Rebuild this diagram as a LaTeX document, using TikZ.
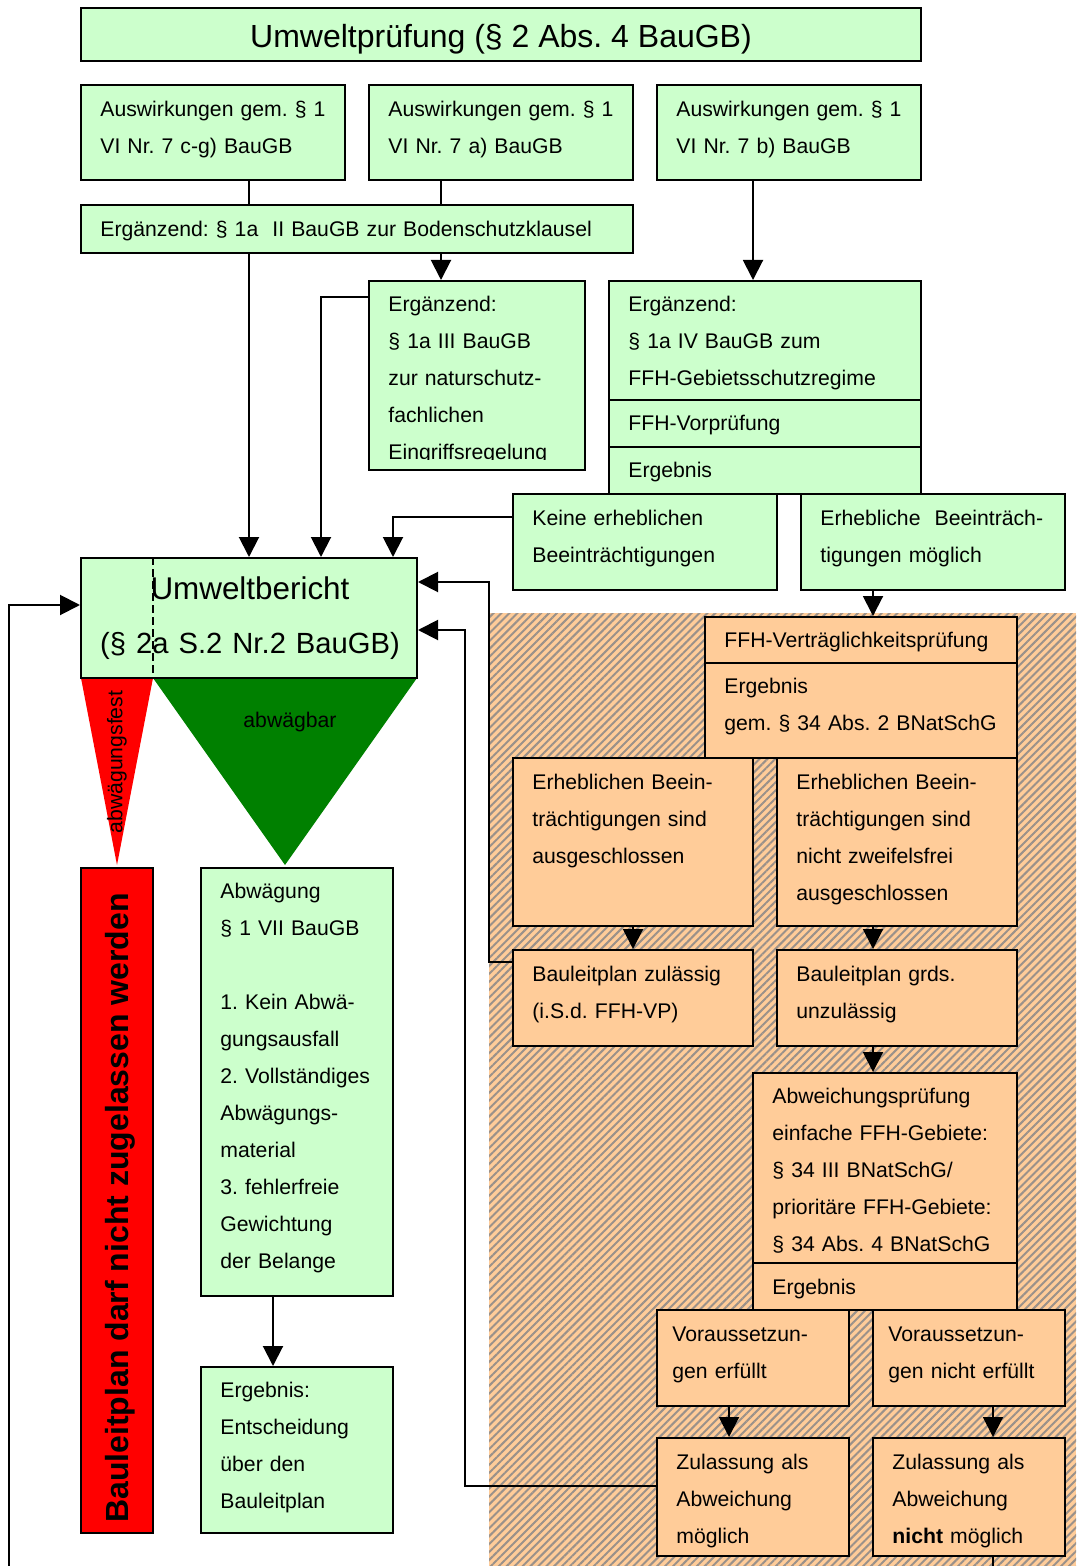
\documentclass[tikz,border=0pt]{standalone}
\usepackage{fontspec}
\setmainfont{Liberation Sans}
\usetikzlibrary{arrows.meta,calc,fit,patterns.meta}
\definecolor{lgreen}{HTML}{CCFFCC}
\definecolor{lorange}{HTML}{FFCC99}
\definecolor{dgreen}{HTML}{008000}
\definecolor{hred}{HTML}{FF0000}
\definecolor{hatch}{HTML}{9A918A}
\newcommand\fbody{\fontsize{10.6pt}{18.5pt}\selectfont}
\frenchspacing
\begin{document}
\begin{tikzpicture}[x=0.5pt,y=-0.5pt,
  box/.style={draw, line width=1pt, fill=lgreen, inner sep=0pt},
  obox/.style={box, fill=lorange},
  txt/.style={anchor=base west, align=left, text width=280pt, inner sep=0pt, font=\fbody},
  con/.style={line width=1pt},
  arr/.style={con, -{Triangle[length=10pt,width=10pt]}}]
\useasboundingbox (0,0) rectangle (1076,1566);
% hatched area
\fill[lorange] (489,613) rectangle (1076,1566);
\fill[pattern={Lines[angle=45,distance=2.8pt,line width=1pt]}, pattern color=hatch] (489,613) rectangle (1076,1566);
% guides
\coordinate (gx1) at (249,0); \coordinate (gx2) at (441,0); \coordinate (gx3) at (753,0);
\coordinate (gx4) at (321,0); \coordinate (gx5) at (393,0); \coordinate (gx6) at (873,0);
\coordinate (gx7) at (633,0); \coordinate (gx8) at (489,0); \coordinate (gx9) at (729,0);
\coordinate (gx10) at (993,0); \coordinate (gx11) at (465,0); \coordinate (gxd) at (153,0);
\coordinate (gx12) at (273,0);
\coordinate (gy1) at (0,297); \coordinate (gy2) at (0,517); \coordinate (gy3) at (0,962);
\coordinate (gy4) at (0,582); \coordinate (gy5) at (0,630); \coordinate (gy6) at (0,1486);
\coordinate (gy7) at (0,605);
\coordinate (nend) at (993,1566); \coordinate (lstart) at (9,1566);
% triangles
\fill[hred] (81,678) -- (153,678) -- (117,865) -- cycle;
\fill[dgreen] (153,678) -- (417,678) -- (285,865) -- cycle;
% boxes
\node[box, fit={(81,8) (921,61)}] (title) {};
\node[anchor=base, inner sep=0pt, font=\fontsize{16pt}{19pt}\selectfont] (titlet) at ($(title.north)+(0,40.5)$) {Umweltprüfung (§ 2 Abs. 4 BauGB)};
\node[box, fit={(81,85) (345,180)}] (a1) {};
\node[txt] (a1t) at ($(a1.north west)+(20,32.5)$) {Auswirkungen gem. § 1\\VI Nr. 7 c-g) BauGB};
\node[box, fit={(369,85) (633,180)}] (a2) {};
\node[txt] (a2t) at ($(a2.north west)+(20,32.5)$) {Auswirkungen gem. § 1\\VI Nr. 7 a) BauGB};
\node[box, fit={(657,85) (921,180)}] (a3) {};
\node[txt] (a3t) at ($(a3.north west)+(20,32.5)$) {Auswirkungen gem. § 1\\VI Nr. 7 b) BauGB};
\node[box, fit={(81,205) (633,253)}] (bod) {};
\node[txt] (bodt) at ($(bod.north west)+(20,32.5)$) {Ergänzend: § 1a~\ II BauGB zur Bodenschutzklausel};
\node[box, fit={(369,281) (585,470)}] (b) {};
\begin{scope}
\clip (369,281) rectangle (585,460);
\node[txt] (bt) at ($(b.north west)+(20,31.5)$) {Ergänzend:\\§ 1a III BauGB\\zur naturschutz-\\fachlichen\\Eingriffsregelung};
\end{scope}
\node[box, fit={(609,281) (921,400)}] (c1) {};
\node[txt] (c1t) at ($(c1.north west)+(20,31.5)$) {Ergänzend:\\§ 1a IV BauGB zum\\FFH-Gebietsschutzregime};
\node[box, fit={(609,400) (921,447)}] (c2) {};
\node[txt] (c2t) at ($(c2.north west)+(20,31.5)$) {FFH-Vorprüfung};
\node[box, fit={(609,447) (921,494)}] (c3) {};
\node[txt] (c3t) at ($(c3.north west)+(20,31.5)$) {Ergebnis};
\node[box, fit={(513,494) (777,590)}] (d) {};
\node[txt] (dt) at ($(d.north west)+(20,32)$) {Keine erheblichen\\Beeinträchtigungen};
\node[box, fit={(801,494) (1065,590)}] (e) {};
\node[txt] (et) at ($(e.north west)+(20,32)$) {Erhebliche~ Beeinträch-\\tigungen möglich};
% Umweltbericht
\node[box, fit={(81,558) (417,678)}] (ub) {};
\node[anchor=base, inner sep=0pt, text width=168pt, align=center, font=\fontsize{15pt}{27pt}\selectfont] (ubt) at (250,599.5) {{\fontsize{15.7pt}{27pt}\selectfont Umweltbericht}\\{\fontsize{14.6pt}{27pt}\selectfont (§ 2a S.2 Nr.2 BauGB)}};
\draw[line width=0.8pt, dash pattern=on 4pt off 2pt] (ub.north -| gxd) -- (ub.south -| gxd);
\node[inner sep=0pt, font=\fbody] (abwt) at (290,722) {abwägbar};
\node[inner sep=0pt, font=\fbody, rotate=90] (fest) at (117,762) {abwägungsfest};
% red box
\node[box, fill=hred, fit={(81,868) (153,1533)}] (rb) {};
\node[inner sep=0pt, rotate=90, font=\fontsize{16pt}{19pt}\selectfont\bfseries] (rbt) at (120,1208) {Bauleitplan darf nicht zugelassen werden};
% Abwaegung
\node[box, fit={(201,868) (393,1296)}] (abw) {};
\node[txt] (abwtx) at ($(abw.north west)+(20,31.5)$) {Abwägung\\§ 1 VII BauGB\\[18.5pt]1. Kein Abwä-\\gungsausfall\\2. Vollständiges\\Abwägungs-\\material\\3. fehlerfreie\\Gewichtung\\der Belange};
\node[box, fit={(201,1367) (393,1533)}] (erg) {};
\node[txt] (ergt) at ($(erg.north west)+(20,31.5)$) {Ergebnis:\\Entscheidung\\über den\\Bauleitplan};
% orange part
\node[obox, fit={(705,617) (1017,663)}] (v1) {};
\node[txt] (v1t) at ($(v1.north west)+(20,31.5)$) {FFH-Verträglichkeitsprüfung};
\node[obox, fit={(705,663) (1017,758)}] (v2) {};
\node[txt] (v2t) at ($(v2.north west)+(20,31.5)$) {Ergebnis\\gem. § 34 Abs. 2 BNatSchG};
\node[obox, fit={(513,758) (753,926)}] (f) {};
\node[txt] (ft) at ($(f.north west)+(20,32)$) {Erheblichen Beein-\\trächtigungen sind\\ausgeschlossen};
\node[obox, fit={(777,758) (1017,926)}] (g) {};
\node[txt] (gt) at ($(g.north west)+(20,32)$) {Erheblichen Beein-\\trächtigungen sind\\nicht zweifelsfrei\\ausgeschlossen};
\node[obox, fit={(513,950) (753,1046)}] (h) {};
\node[txt] (ht) at ($(h.north west)+(20,32)$) {Bauleitplan zulässig\\(i.S.d. FFH-VP)};
\node[obox, fit={(777,950) (1017,1046)}] (i) {};
\node[txt] (it) at ($(i.north west)+(20,32)$) {Bauleitplan grds.\\unzulässig};
\node[obox, fit={(753,1073) (1017,1263)}] (j1) {};
\node[txt] (j1t) at ($(j1.north west)+(20,31.5)$) {Abweichungsprüfung\\einfache FFH-Gebiete:\\§ 34 III BNatSchG/\\prioritäre FFH-Gebiete:\\§ 34 Abs. 4 BNatSchG};
\node[obox, fit={(753,1263) (1017,1310)}] (j2) {};
\node[txt] (j2t) at ($(j2.north west)+(20,32)$) {Ergebnis};
\node[obox, fit={(657,1310) (849,1406)}] (k) {};
\node[txt] (kt) at ($(k.north west)+(16,32)$) {Voraussetzun-\\gen erfüllt};
\node[obox, fit={(873,1310) (1065,1406)}] (l) {};
\node[txt] (lt) at ($(l.north west)+(16,32)$) {Voraussetzun-\\gen nicht erfüllt};
\node[obox, fit={(657,1438) (849,1556)}] (m) {};
\node[txt] (mt) at ($(m.north west)+(20,32)$) {Zulassung als\\Abweichung\\möglich};
\node[obox, fit={(873,1438) (1065,1556)}] (n) {};
\node[txt] (nt) at ($(n.north west)+(20,32)$) {Zulassung als\\Abweichung\\\textbf{nicht} möglich};
% connectors
\draw[con] (a1.south -| gx1) -- (bod.north -| gx1);
\draw[con] (a2.south -| gx2) -- (bod.north -| gx2);
\draw[arr] (a3.south -| gx3) -- (c1.north -| gx3);
\draw[arr] (bod.south -| gx1) -- (ub.north -| gx1);
\draw[arr] (bod.south -| gx2) -- (b.north -| gx2);
\draw[arr] (b.west |- gy1) -| (ub.north -| gx4);
\draw[arr] (d.west |- gy2) -| (ub.north -| gx5);
\draw[arr] (e.south -| gx6) -- (v1.north -| gx6);
\draw[arr] (f.south -| gx7) -- (h.north -| gx7);
\draw[arr] (g.south -| gx6) -- (i.north -| gx6);
\draw[arr] (h.west |- gy3) -- (gx8 |- gy3) -- (gx8 |- gy4) -- (ub.east |- gy4);
\draw[arr] (i.south -| gx6) -- (j1.north -| gx6);
\draw[arr] (k.south -| gx9) -- (m.north -| gx9);
\draw[arr] (l.south -| gx10) -- (n.north -| gx10);
\draw[arr] (m.west |- gy6) -- (gx11 |- gy6) -- (gx11 |- gy5) -- (ub.east |- gy5);
\draw[arr] (abw.south -| gx12) -- (erg.north -| gx12);
\draw[con] (n.south -| gx10) -- (nend);
\draw[arr] (lstart) -- (lstart |- gy7) -- (ub.west |- gy7);
\end{tikzpicture}
\end{document}
